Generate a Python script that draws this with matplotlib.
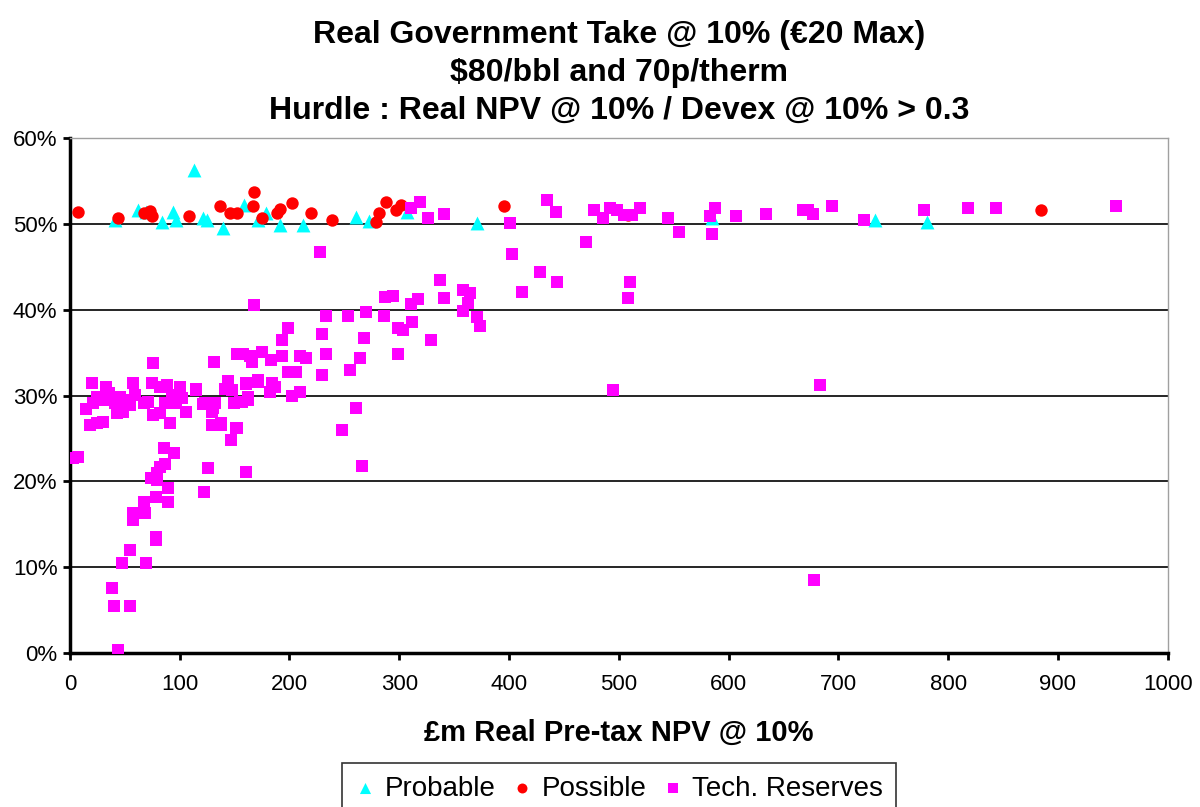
import matplotlib
matplotlib.use("Agg")
import matplotlib.pyplot as plt
from matplotlib.ticker import MultipleLocator, FuncFormatter

plt.rcParams['font.family'] = ['Liberation Sans', 'DejaVu Sans']

# Probable fields: pre-tax NPV (£m) and government take (%)
probable_npv = [41, 62, 69, 84, 94, 97, 113, 121, 125, 139, 159, 171, 179, 191,
                212, 261, 272, 307, 371, 585, 733, 781]
probable_take = [50.4, 51.6, 51.4, 50.2, 51.4, 50.4, 56.3, 50.7, 50.4, 49.5, 52.2,
                 50.4, 51.3, 49.9, 49.9, 50.8, 50.3, 51.4, 50.1, 50.7, 50.4, 50.2]

# Possible fields
possible_npv = [7, 44, 67, 73, 75, 108, 137, 146, 152, 167, 168, 175, 189, 191,
                202, 220, 239, 279, 282, 288, 297, 302, 395, 508, 885]
possible_take = [51.4, 50.7, 51.3, 51.5, 50.9, 50.9, 52.1, 51.3, 51.3, 52.1, 53.7,
                 50.7, 51.3, 51.7, 52.4, 51.3, 50.4, 50.2, 51.3, 52.5, 51.6, 52.2,
                 52.1, 51.0, 51.6]

# Technical reserves
tech_npv = [
    228, 319, 311, 326, 341, 401, 435, 443, 470, 477, 486, 492, 498, 505, 512, 519,
    545, 555, 403, 428, 444, 510, 508, 337, 341, 412, 287, 294, 311, 317, 358, 364,
    363, 583, 588, 585, 607, 634, 668, 672, 677, 694, 723, 778, 818, 844, 953,
    495, 683, 678,
    168, 233, 253, 270, 286, 299, 303, 199, 193, 230, 268, 233, 264, 299, 255, 230,
    131, 152, 158, 164, 175, 183, 166, 193, 210, 215, 199, 206, 171, 160, 144, 184,
    187, 141, 148, 182, 210, 202, 162, 155, 149, 115, 121, 132, 129, 152, 147, 130,
    138, 261, 248, 266, 126, 160, 122, 329, 358, 371, 374, 312, 76,
    3, 7, 20, 33, 57, 75, 82, 88, 100, 115, 144, 160, 171, 15, 21, 25, 30, 36, 41,
    46, 52, 59, 67, 71, 76, 82, 87, 93, 97, 102, 106, 91, 18, 25, 30, 43, 48, 55,
    123, 130, 129, 138, 149, 157, 162, 151, 147,
    86, 95, 87, 82, 79, 74, 79, 89, 89, 78, 67, 68, 57, 57, 78, 78, 55, 47, 69, 38,
    40, 55, 44,
]
tech_take = [
    46.7, 52.5, 51.9, 50.7, 51.2, 50.1, 52.8, 51.4, 47.9, 51.6, 50.7, 51.9, 51.6, 51.0, 51.0, 51.9,
    50.7, 49.1, 46.5, 44.4, 43.2, 43.2, 41.4, 43.5, 41.4, 42.1, 41.5, 41.6, 40.7, 41.2, 42.3, 41.9,
    40.8, 50.9, 51.9, 48.8, 50.9, 51.1, 51.6, 51.6, 51.1, 52.1, 50.4, 51.6, 51.9, 51.9, 52.1,
    30.6, 31.2, 8.5,
    40.6, 39.3, 39.3, 39.7, 39.3, 37.9, 37.6, 37.9, 36.5, 37.2, 36.7, 34.8, 34.4, 34.8, 33.0, 32.4,
    33.9, 34.8, 34.8, 34.6, 35.1, 34.1, 33.9, 34.6, 34.6, 34.4, 32.7, 32.7, 31.8, 31.3, 31.7, 31.5,
    31.0, 30.8, 30.6, 30.4, 30.4, 29.9, 29.5, 29.2, 29.1, 30.6, 29.0, 29.1, 28.1, 26.2, 24.8, 26.6,
    26.6, 28.5, 26.0, 21.8, 21.6, 21.1, 18.8, 36.5, 39.8, 39.1, 38.1, 38.6, 33.8,
    22.7, 22.8, 31.4, 31.0, 31.4, 31.4, 31.0, 31.2, 31.0, 30.8, 31.6, 31.4, 31.6, 28.4, 29.1, 29.8,
    29.5, 30.3, 29.1, 29.8, 29.5, 30.1, 29.1, 29.2, 27.7, 28.0, 29.1, 30.1, 29.1, 29.7, 28.1, 26.8,
    26.6, 26.8, 26.9, 28.0, 28.1, 28.9,
    29.1, 28.5, 26.6, 26.8, 29.1, 29.2, 29.8, 26.2, 24.8,
    23.9, 23.3, 22.0, 21.7, 21.0, 20.4, 20.2, 19.2, 17.6, 18.2, 17.6, 16.3, 16.3, 15.5, 13.5, 13.2,
    12.0, 10.5, 10.5, 7.6, 5.5, 5.5, 0.4,
]

title_lines = ["Real Government Take @ 10% (\u20ac20 Max)",
               "$80/bbl and 70p/therm",
               "Hurdle : Real NPV @ 10% / Devex @ 10% > 0.3"]
x_label = "\u00a3m Real Pre-tax NPV @ 10%"

fig = plt.figure(figsize=(12, 8.07), dpi=100)
ax = fig.add_axes([0.0583, 0.1908, 0.9147, 0.6382])

ax.scatter(probable_npv, probable_take, marker='^', s=100, color='#00FFFF',
           linewidths=0, label='Probable', zorder=3)
ax.scatter(possible_npv, possible_take, marker='o', s=80, color='#FF0000',
           linewidths=0, label='Possible', zorder=4)
ax.scatter(tech_npv, tech_take, marker='s', s=72, color='#FF00FF',
           linewidths=0, label='Tech. Reserves', zorder=5)

ax.set_xlim(0, 1000)
ax.set_ylim(0, 60)
ax.xaxis.set_major_locator(MultipleLocator(100))
ax.yaxis.set_major_locator(MultipleLocator(10))
ax.yaxis.set_major_formatter(FuncFormatter(lambda v, p: f"{v:.0f}%"))
ax.grid(axis='y', color='black', linewidth=1.2, zorder=1)
ax.set_axisbelow(True)

for side in ('top', 'right'):
    ax.spines[side].set_color('#A0A0A0')
    ax.spines[side].set_linewidth(1.0)
for side in ('left', 'bottom'):
    ax.spines[side].set_color('black')
    ax.spines[side].set_linewidth(2.5)

ax.tick_params(axis='both', direction='out', length=5, width=2, labelsize=16,
               colors='black', pad=4)
ax.tick_params(axis='x', pad=10)

ax.set_title("\n".join(title_lines), fontsize=23, fontweight='bold',
             linespacing=1.33, pad=14)
ax.set_xlabel(x_label, fontsize=21, fontweight='bold', labelpad=17)

leg = ax.legend(loc='upper center', bbox_to_anchor=(0.5, -0.2136), ncol=3,
                fontsize=20, frameon=True, fancybox=False, edgecolor='black',
                handletextpad=0.3, columnspacing=0.55, borderpad=0.45,
                borderaxespad=0.0, handlelength=0.8, markerscale=0.8)
leg.get_frame().set_linewidth(1.2)

fig.savefig("out.png", dpi=100, facecolor='white')
